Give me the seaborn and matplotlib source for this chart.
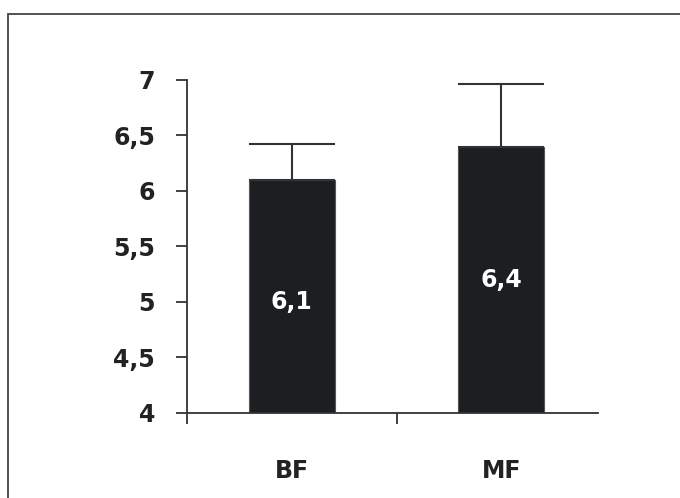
import matplotlib
matplotlib.use("Agg")
import matplotlib.pyplot as plt
import seaborn as sns
import pandas as pd
from matplotlib.patches import Rectangle

# Style
sns.set_style("white")
plt.rcParams['font.family'] = ['DejaVu Sans']

# -----------------------------
# DATA
# -----------------------------
groups = ["BF", "MF"]
means = [6.1, 6.4]
upper_err = [0.32, 0.56]
bar_labels = ["6,1", "6,4"]
label_y = [5.0, 5.2]
yticks = [4, 4.5, 5, 5.5, 6, 6.5, 7]
ytick_labels = ["4", "4,5", "5", "5,5", "6", "6,5", "7"]

df = pd.DataFrame({"Group": groups, "Mean": means})

# -----------------------------
# FIGURE
# -----------------------------
fig = plt.figure(figsize=(6.8, 4.98), dpi=100)
ax = fig.add_axes([0.275, 0.1713, 0.604, 0.6681])

sns.barplot(data=df, x="Group", y="Mean", color="#1c1f22", width=0.41,
            edgecolor="#555555", linewidth=0.8, ax=ax, saturation=1)

# one-sided error bars
ax.errorbar(range(len(groups)), means, yerr=[[0] * len(groups), upper_err],
            fmt="none", ecolor="#333333", elinewidth=1.5, capsize=31,
            capthick=1.5)

# values inside bars
for i, (txt, yy) in enumerate(zip(bar_labels, label_y)):
    ax.text(i, yy, txt, color="white", ha="center", va="center",
            fontsize=17, fontweight="bold")

ax.set_ylim(4, 7)
ax.set_xlim(-0.5, 1.46)
ax.set_yticks(yticks)
ax.set_yticklabels(ytick_labels, fontsize=17, fontweight="bold", color="#222222")
ax.set_xticks([0, 1])
ax.set_xticklabels(groups, fontsize=17, fontweight="bold", color="#222222")
ax.set_xticks([-0.5, 0.5], minor=True)
ax.tick_params(axis="x", which="major", length=0, pad=33)
ax.tick_params(axis="x", which="minor", length=8, width=1.3, color="#333333",
               direction="out", bottom=True)
ax.tick_params(axis="y", length=8, width=1.3, color="#333333", direction="out",
               pad=15, left=True)
ax.set_xlabel("")
ax.set_ylabel("")

for side in ["top", "right"]:
    ax.spines[side].set_visible(False)
for side in ["left", "bottom"]:
    ax.spines[side].set_color("#333333")
    ax.spines[side].set_linewidth(1.3)

# outer frame (runs off the right and bottom edge)
fig.patches.append(Rectangle((8 / 680, -0.1), 1.2, 1.1 - 14 / 498,
                             transform=fig.transFigure, fill=False,
                             edgecolor="#444444", linewidth=1.3))

fig.savefig("out.png", dpi=100)
